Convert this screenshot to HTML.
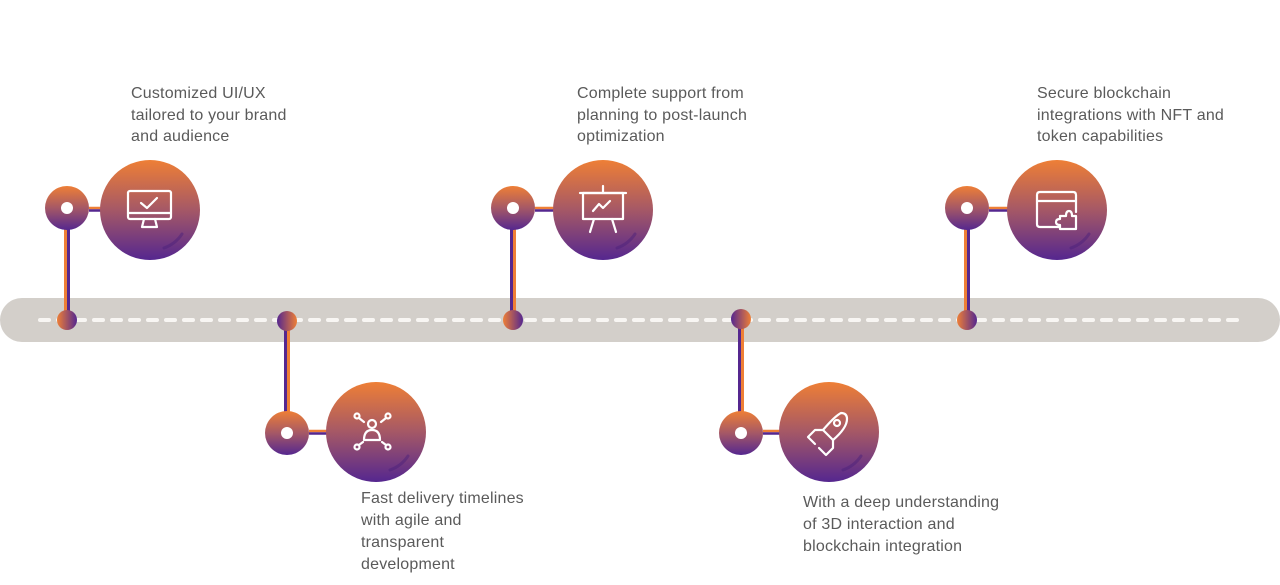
<!DOCTYPE html>
<html><head><meta charset="utf-8"><style>
html,body{margin:0;padding:0;background:#fff;}
svg{display:block}
text{font-family:"Liberation Sans",sans-serif;font-size:16px;letter-spacing:0.2px;fill:#5a5a5a;}
</style></head><body>
<svg width="1280" height="585" viewBox="0 0 1280 585" xmlns="http://www.w3.org/2000/svg">
<defs>
<linearGradient id="g" x1="0" y1="0" x2="0" y2="1">
<stop offset="0" stop-color="#ee7f36"/><stop offset="0.5" stop-color="#a55866"/><stop offset="1" stop-color="#55278f"/>
</linearGradient>
<linearGradient id="gh" x1="0" y1="0" x2="1" y2="0">
<stop offset="0" stop-color="#55278f"/><stop offset="1" stop-color="#ee7f36"/>
</linearGradient>
<linearGradient id="gh2" x1="0" y1="0" x2="1" y2="0">
<stop offset="0" stop-color="#ee7f36"/><stop offset="1" stop-color="#55278f"/>
</linearGradient>
</defs>
<rect x="0" y="298" width="1280" height="44" rx="22" fill="#d3cfca"/>
<line x1="40" y1="320" x2="1240" y2="320" stroke="#f8f6f3" stroke-width="4" stroke-dasharray="9,9" stroke-linecap="round"/>

<g fill="none">
<line x1="65.5" y1="208" x2="65.5" y2="320" stroke="#ee7f36" stroke-width="3"/>
<line x1="68.5" y1="208" x2="68.5" y2="320" stroke="#55278f" stroke-width="3"/>
<line x1="285.5" y1="321" x2="285.5" y2="433" stroke="#55278f" stroke-width="3"/>
<line x1="288.5" y1="321" x2="288.5" y2="433" stroke="#ee7f36" stroke-width="3"/>
<line x1="511.5" y1="208" x2="511.5" y2="320" stroke="#55278f" stroke-width="3"/>
<line x1="514.5" y1="208" x2="514.5" y2="320" stroke="#ee7f36" stroke-width="3"/>
<line x1="739.5" y1="319" x2="739.5" y2="433" stroke="#55278f" stroke-width="3"/>
<line x1="742.5" y1="319" x2="742.5" y2="433" stroke="#ee7f36" stroke-width="3"/>
<line x1="965.5" y1="208" x2="965.5" y2="320" stroke="#ee7f36" stroke-width="3"/>
<line x1="968.5" y1="208" x2="968.5" y2="320" stroke="#55278f" stroke-width="3"/>
</g>

<g stroke-width="2.5">
<line x1="89" y1="208" x2="130" y2="208" stroke="#ee7f36"/><line x1="89" y1="210.5" x2="130" y2="210.5" stroke="#55278f"/>
<line x1="309" y1="431" x2="356" y2="431" stroke="#ee7f36"/><line x1="309" y1="433.5" x2="356" y2="433.5" stroke="#55278f"/>
<line x1="535" y1="208" x2="580" y2="208" stroke="#ee7f36"/><line x1="535" y1="210.5" x2="580" y2="210.5" stroke="#55278f"/>
<line x1="763" y1="431" x2="810" y2="431" stroke="#ee7f36"/><line x1="763" y1="433.5" x2="810" y2="433.5" stroke="#55278f"/>
<line x1="989" y1="208" x2="1035" y2="208" stroke="#ee7f36"/><line x1="989" y1="210.5" x2="1035" y2="210.5" stroke="#55278f"/>
</g>

<g fill="url(#g)">
<circle cx="67" cy="208" r="22"/><circle cx="287" cy="433" r="22"/><circle cx="513" cy="208" r="22"/><circle cx="741" cy="433" r="22"/><circle cx="967" cy="208" r="22"/>
<circle cx="150" cy="210" r="50"/><circle cx="376" cy="432" r="50"/><circle cx="603" cy="210" r="50"/><circle cx="829" cy="432" r="50"/><circle cx="1057" cy="210" r="50"/>
</g>
<g fill="#fff"><circle cx="67" cy="208" r="6"/><circle cx="287" cy="433" r="6"/><circle cx="513" cy="208" r="6"/><circle cx="741" cy="433" r="6"/><circle cx="967" cy="208" r="6"/></g>

<circle cx="67" cy="320" r="10" fill="url(#gh2)"/>
<circle cx="287" cy="321" r="10" fill="url(#gh)"/>
<circle cx="513" cy="320" r="10" fill="url(#gh2)"/>
<circle cx="741" cy="319" r="10" fill="url(#gh)"/>
<circle cx="967" cy="320" r="10" fill="url(#gh2)"/>

<g fill="none" stroke="#4a1f7a" stroke-width="3" stroke-linecap="round" opacity="0.45">
<path d="M182 234 A36 36 0 0 1 164 248"/>
<path d="M408 456 A36 36 0 0 1 390 470"/>
<path d="M635 234 A36 36 0 0 1 617 248"/>
<path d="M861 456 A36 36 0 0 1 843 470"/>
<path d="M1089 234 A36 36 0 0 1 1071 248"/>
</g>

<g fill="none" stroke="#fff" stroke-width="2.2" stroke-linecap="round" stroke-linejoin="round">
<rect x="128" y="191" width="43" height="28" rx="2"/>
<line x1="128" y1="213" x2="171" y2="213"/>
<path d="M144 219 L142 227 L157 227 L155 219"/>
<path d="M141 203 L147 208 L157 198"/>
<circle cx="372" cy="424" r="4"/>
<path d="M364 440 Q364 430 372 430 Q380 430 380 440 Z"/>
<circle cx="357" cy="416" r="2.5"/><circle cx="388" cy="416" r="2.5"/><circle cx="357" cy="447" r="2.5"/><circle cx="388" cy="447" r="2.5"/>
<line x1="359" y1="418" x2="364" y2="422"/><line x1="386" y1="418" x2="381" y2="422"/>
<line x1="359" y1="445" x2="363" y2="442"/><line x1="386" y1="445" x2="382" y2="442"/>
<rect x="583" y="193" width="40" height="26"/>
<line x1="580" y1="193" x2="626" y2="193"/>
<line x1="603" y1="186" x2="603" y2="193"/>
<path d="M594 219 L590 232 M612 219 L616 232"/>
<path d="M593 211 L599 204 L603 208 L610 201"/>
<path d="M841 413 Q847 413 847 419 Q847 428 833 440 L823 430 Q835 416 841 413 Z"/>
<circle cx="837" cy="423" r="3"/>
<path d="M823 430 L815 430 L808 437 L815 444 M833 440 L833 448 L826 455 L819 448"/>
<path d="M1060 227 L1040 227 Q1037 227 1037 224 L1037 195 Q1037 192 1040 192 L1073 192 Q1076 192 1076 195 L1076 212"/>
<line x1="1037" y1="201" x2="1076" y2="201"/>
<path d="M1060 216 L1066 216 Q1066 211 1069 211 Q1072 211 1072 216 L1076 216 L1076 229 L1060 229 L1060 225 Q1056 225 1056 222 Q1056 219 1060 219 Z"/>
</g>

<text x="131" y="98">Customized UI/UX</text>
<text x="131" y="120">tailored to your brand</text>
<text x="131" y="141">and audience</text>
<text x="577" y="98">Complete support from</text>
<text x="577" y="120">planning to post-launch</text>
<text x="577" y="141">optimization</text>
<text x="1037" y="98">Secure blockchain</text>
<text x="1037" y="120">integrations with NFT and</text>
<text x="1037" y="141">token capabilities</text>
<text x="361" y="503">Fast delivery timelines</text>
<text x="361" y="525">with agile and</text>
<text x="361" y="547">transparent</text>
<text x="361" y="569">development</text>
<text x="803" y="507">With a deep understanding</text>
<text x="803" y="529">of 3D interaction and</text>
<text x="803" y="551">blockchain integration</text>
</svg>
</body></html>
